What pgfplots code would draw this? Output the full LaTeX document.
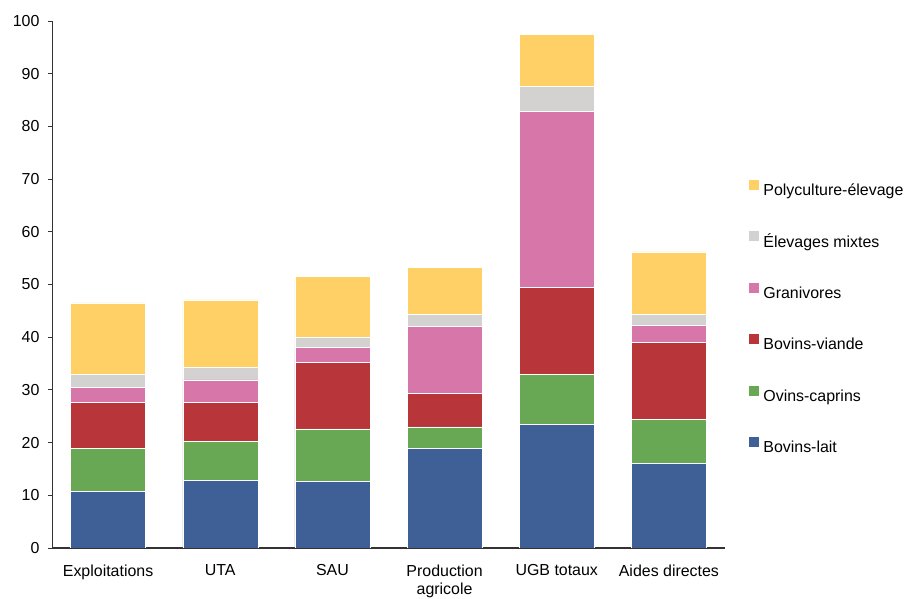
\documentclass[border=0pt]{standalone}
\usepackage{fontspec}
\setmainfont{Liberation Sans}
\usepackage{pgfplots}
\pgfplotsset{compat=1.18}
\definecolor{cBL}{HTML}{3E6097}
\definecolor{cOC}{HTML}{68A855}
\definecolor{cBV}{HTML}{B83539}
\definecolor{cGR}{HTML}{D676A9}
\definecolor{cEM}{HTML}{D3D2D0}
\definecolor{cPE}{HTML}{FED065}
\definecolor{axc}{HTML}{333333}
\begin{document}
\begin{tikzpicture}
\begin{axis}[
  at={(52bp,51bp)}, anchor=south west,
  scale only axis, width=673bp, height=527bp,
  ybar stacked, bar width=75bp,
  xmin=-0.5, xmax=5.5, ymin=0, ymax=100,
  xtick={0,1,2,3,4,5},
  xticklabels={Exploitations, UTA, SAU, {Production\\agricole}, UGB totaux, Aides directes},
  xtick style={draw=none},
  xticklabel style={align=center, anchor=north, yshift=-9bp, font=\fontsize{16}{18.5}\selectfont},
  ytick={0,10,...,100},
  yticklabel style={font=\fontsize{16}{18}\selectfont, xshift=-5bp},
  /pgf/number format/assume math mode=true,
  axis x line*=bottom, axis y line*=left,
  axis line style={axc, line width=1.2bp, -},
  y axis line style={line width=1bp},
  tick align=outside, ytick style={axc, line width=0.8bp},
  major tick length=4bp,
  reverse legend,
  legend style={draw=none, fill=none, inner sep=0pt, outer sep=0pt,
    at={(748bp-52bp,599bp-179bp-51bp)}, anchor=north west,
    font=\fontsize{16}{18}\selectfont, row sep=34.7bp,
    nodes={inner sep=0pt, text height=11bp, text depth=0bp},
    column sep=4bp},
  legend cell align=left,
  legend image code/.code={\fill[#1] (0bp,0bp) rectangle (11bp,11bp);},
]
\addplot[fill=cBL, draw=white, line width=0.4bp] coordinates {(0,10.8) (1,12.9) (2,12.7) (3,18.9) (4,23.4) (5,16.0)};
\addplot[fill=cOC, draw=white, line width=0.4bp] coordinates {(0,8.1) (1,7.3) (2,9.9) (3,4.1) (4,9.5) (5,8.4)};
\addplot[fill=cBV, draw=white, line width=0.4bp] coordinates {(0,8.8) (1,7.5) (2,12.6) (3,6.3) (4,16.6) (5,14.6)};
\addplot[fill=cGR, draw=white, line width=0.4bp] coordinates {(0,2.8) (1,4.2) (2,2.9) (3,12.7) (4,33.4) (5,3.3)};
\addplot[fill=cEM, draw=white, line width=0.4bp] coordinates {(0,2.5) (1,2.4) (2,1.9) (3,2.4) (4,4.7) (5,2.0)};
\addplot[fill=cPE, draw=white, line width=0.4bp] coordinates {(0,13.5) (1,12.8) (2,11.6) (3,8.8) (4,9.8) (5,11.9)};
\legend{Bovins-lait, Ovins-caprins, Bovins-viande, Granivores, Élevages mixtes, Polyculture-élevage}
\end{axis}
\pgfresetboundingbox
\path (0,0) rectangle (920bp,599bp);
\end{tikzpicture}
\end{document}
